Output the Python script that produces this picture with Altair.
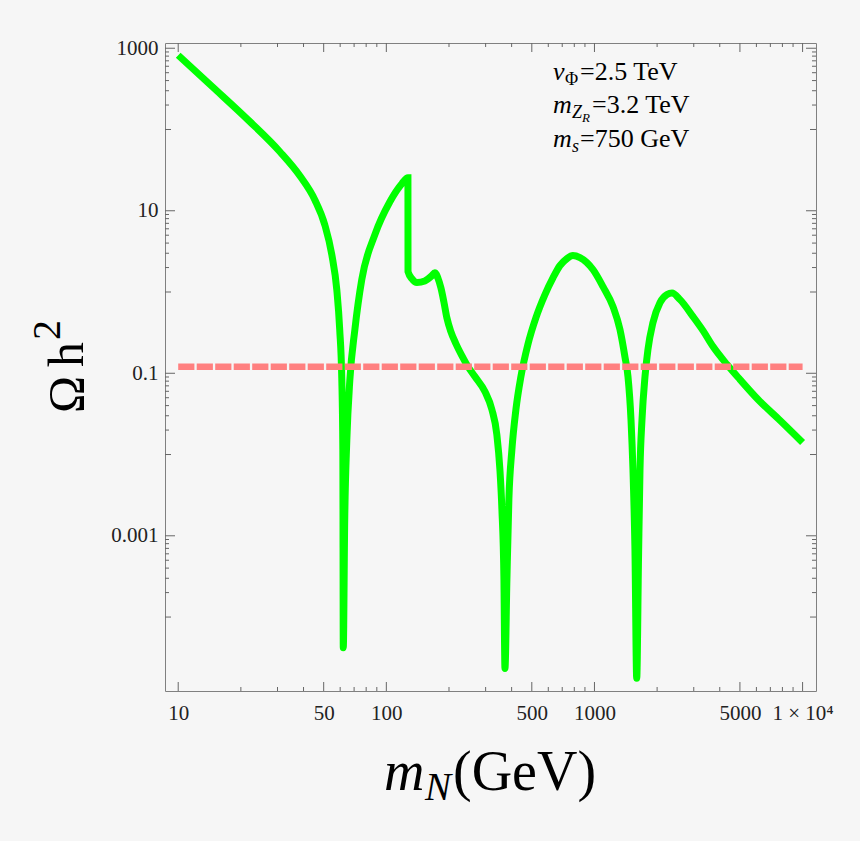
import altair as alt
import pandas as pd

W, H = 651, 648

# ---- data ----
m_N = [10, 14.6, 22.1, 30.8, 38.4, 45.3, 50.6, 54.7, 57.8, 59.7, 61.1, 61.8, 62.1,
       63.1, 64.6, 66.8, 70.6, 76.2, 88.1, 104, 118.7, 127,
       127.1, 132.6, 140.3, 153, 165.6, 171, 176.9, 182.8, 188.9, 195.3, 204.2, 215.8, 230.6,
       246.6, 266.4, 297.6, 321.4, 339.6, 351.3, 359.2, 367.3, 371.5,
       379.6, 388, 401.2, 419.4, 443.2, 478.6, 523.4, 578.3, 631.7, 682.3, 737.6, 788,
       851.5, 983.5, 1099, 1228, 1326, 1401, 1449, 1498, 1531, 1565, 1596,
       1628, 1655, 1692, 1749, 1807, 1910, 2065, 2232, 2359, 2577, 2976, 3323, 3713,
       4335, 5005, 6109, 7800, 10000]
omega_h2 = [820, 336, 125, 53.3, 27.0, 13.7, 6.74, 2.88, 1.07, 0.345, 0.0836, 0.0115, 4.2e-5,
            0.00158, 0.0153, 0.0836, 0.345, 1.42, 5.08, 12.9, 21.5, 25.5,
            1.78, 1.46, 1.31, 1.37, 1.59, 1.73, 1.49, 1.13, 0.762, 0.484, 0.326, 0.232, 0.165,
            0.121, 0.091, 0.0596, 0.0358, 0.0176, 0.00654, 0.0021, 2.9e-4, 2.33e-5,
            2.9e-4, 0.0028, 0.0115, 0.0358, 0.091, 0.2255, 0.484, 0.929, 1.49, 2.11, 2.58, 2.81,
            2.65, 1.89, 1.165, 0.661, 0.345, 0.159, 0.091, 0.0269, 0.00654, 6.8e-4, 1.76e-5,
            5.1e-4, 0.00654, 0.0269, 0.091, 0.1956, 0.42, 0.74, 0.929, 0.97, 0.806, 0.498, 0.335, 0.213,
            0.128, 0.0836, 0.0475, 0.0262, 0.01405]

relic_m = [10, 10000]
relic_omega = [0.12, 0.12]

x_major = [10, 50, 100, 500, 1000, 5000, 10000]
x_minor = [20, 30, 40, 60, 70, 80, 90, 200, 300, 400, 600, 700, 800, 900,
           2000, 3000, 4000, 6000, 7000, 8000, 9000]
y_major = [1000, 10, 0.1, 0.001]
y_medium = [100, 1, 0.01, 0.0001]
y_minor = [200, 300, 400, 500, 600, 700, 800, 900,
           2, 3, 4, 5, 6, 7, 8, 9,
           0.02, 0.03, 0.04, 0.05, 0.06, 0.07, 0.08, 0.09,
           0.0002, 0.0003, 0.0004, 0.0005, 0.0006, 0.0007, 0.0008, 0.0009]

SERIF = "Liberation Serif"
TICK = "#666666"

xscale = alt.Scale(type="log", domain=[8.64, 11600], nice=False)
yscale = alt.Scale(type="log", domain=[1.23e-5, 1160], nice=False)

x_axis = alt.Axis(
    values=x_major, title=None, ticks=False, tickSize=0, domain=False, grid=False,
    labelExpr="datum.value == 10000 ? '1 × 10⁴' : format(datum.value, '~g')",
    labelFont=SERIF, labelFontSize=21, labelColor="#222222", labelPadding=11,
    labelFlush=False, labelOverlap=False)
y_axis = alt.Axis(
    values=y_major, title=None, ticks=False, tickSize=0, domain=False, grid=False,
    labelExpr="format(datum.value, '~g')",
    labelFont=SERIF, labelFontSize=21, labelColor="#222222", labelPadding=7,
    labelFlush=False, labelOverlap=False)

curve = alt.Chart(pd.DataFrame({"m": m_N, "o": omega_h2, "i": list(range(len(m_N)))})).mark_line(
    color="#00ff00", strokeWidth=7, interpolate="monotone"
).encode(
    x=alt.X("m:Q", scale=xscale, axis=x_axis),
    y=alt.Y("o:Q", scale=yscale, axis=y_axis),
    order="i:Q",
)

relic = alt.Chart(pd.DataFrame({"m": relic_m, "o": relic_omega})).mark_line(
    color="#ff8080", strokeWidth=6.5, strokeDash=[16.2, 2.3]
).encode(
    x=alt.X("m:Q", scale=xscale, axis=x_axis),
    y=alt.Y("o:Q", scale=yscale, axis=y_axis),
)


def xticks(vals, length, top):
    enc = dict(x=alt.X("m:Q", scale=xscale, axis=x_axis))
    if top:
        enc.update(y=alt.value(0), y2=alt.value(length))
    else:
        enc.update(y=alt.value(H), y2=alt.value(H - length))
    return alt.Chart(pd.DataFrame({"m": vals})).mark_rule(color=TICK, strokeWidth=1).encode(**enc)


def yticks(vals, length, right):
    enc = dict(y=alt.Y("o:Q", scale=yscale, axis=y_axis))
    if right:
        enc.update(x=alt.value(W), x2=alt.value(W - length))
    else:
        enc.update(x=alt.value(0), x2=alt.value(length))
    return alt.Chart(pd.DataFrame({"o": vals})).mark_rule(color=TICK, strokeWidth=1).encode(**enc)


def txt(s, x, y, size, italic=False, angle=None):
    kw = dict(font=SERIF, fontSize=size, align="left", baseline="alphabetic", color="#000000")
    if italic:
        kw["fontStyle"] = "italic"
    if angle is not None:
        kw["angle"] = angle
    return alt.Chart(pd.DataFrame({"t": [s]})).mark_text(**kw).encode(
        text="t:N", x=alt.value(x), y=alt.value(y))


ticks = [
    xticks(x_major, 9, False), xticks(x_minor, 4, False),
    xticks(x_major, 9, True), xticks(x_minor, 4, True),
    yticks(y_major, 10, False), yticks(y_medium, 6, False), yticks(y_minor, 4, False),
    yticks(y_major, 10, True), yticks(y_medium, 6, True), yticks(y_minor, 4, True),
]

F = 26
FS = 18
annotations = [
    txt("v", 388, 37, F, italic=True),
    txt("Φ", 400, 42, FS),
    txt("=2.5 TeV", 415, 37, F),
    txt("m", 388, 70, F, italic=True),
    txt("Z", 407, 75, FS, italic=True),
    txt("R", 417, 79, 13, italic=True),
    txt("=3.2 TeV", 427, 70, F),
    txt("m", 388, 104, F, italic=True),
    txt("s", 407, 109, FS, italic=True),
    txt("=750 GeV", 415, 104, F),
]

axis_titles = [
    txt("m", 219, 747, 56, italic=True),
    txt("N", 260, 757, 39, italic=True),
    txt("(GeV)", 288, 747, 56),
    txt("Ω", -82, 370, 50, angle=270),
    txt("h", -82, 324, 50, angle=270),
    txt("2", -105, 297, 40, angle=270),
]

chart = alt.layer(curve, relic, *ticks, *annotations, *axis_titles).properties(
    width=W, height=H,
    padding={"left": 165, "top": 43, "right": 44, "bottom": 150},
    autosize=alt.AutoSizeParams(type="none"),
    background="#f6f6f6",
).configure_view(stroke="#808080", strokeWidth=1)

chart.save("out.html", embed_options={"renderer": "svg", "actions": False})
